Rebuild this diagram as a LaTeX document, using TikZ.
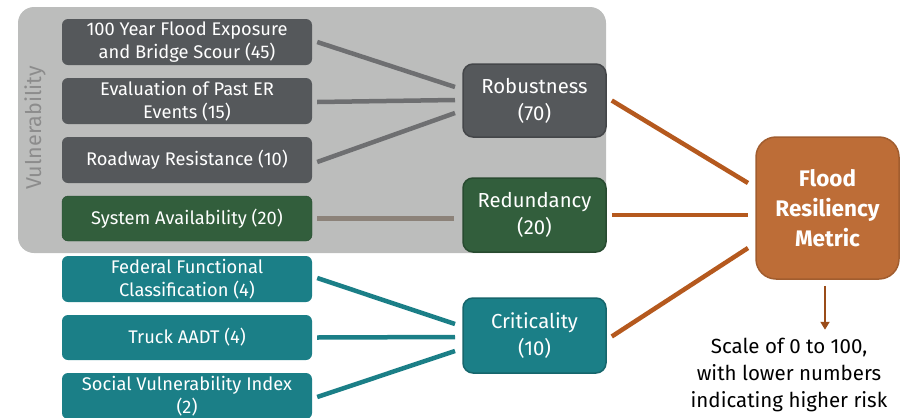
\documentclass[tikz,border=0pt]{standalone}
\usepackage{fontspec}
\setmainfont{Fira Sans}
\usetikzlibrary{arrows.meta}
\definecolor{vulngray}{HTML}{BCBDBC}
\definecolor{robgray}{HTML}{55585B}
\definecolor{redgreen}{HTML}{325E3C}
\definecolor{critteal}{HTML}{1B7F87}
\definecolor{floodorange}{HTML}{BD6D37}
\definecolor{lineorange}{HTML}{B5591E}
\definecolor{linegray}{HTML}{6E6F71}
\definecolor{linebrown}{HTML}{8C8279}
\tikzset{
	inbox/.style = {rounded corners = 6pt, text = white, align = center, minimum width = 250pt, font = \fontsize{18.3}{23.5}\selectfont, inner sep = 0pt},
	midbox/.style = {rounded corners = 10pt, text = white, align = center, minimum width = 143pt, font = \fontsize{20.3}{27}\selectfont, line width = 1.5pt, inner sep = 0pt},
	link/.style = {line width = 4.5pt}
}
\begin{document}
\begin{tikzpicture}[x = 1pt, y = -1pt]
	\useasboundingbox (0, 0) rectangle (903, 418);
	\fill[vulngray, rounded corners = 16pt] (18, 7) rectangle (606, 253);
	\node[rotate = 90, text = black!45, font = \fontsize{21.5}{24}\selectfont] (vuln) at (35, 128) {Vulnerability};
	% input boxes
	\node[inbox, fill = robgray, minimum height = 46pt] (flood) at (187, 42) {100 Year Flood Exposure\\and Bridge Scour (45)};
	\node[inbox, fill = robgray, minimum height = 46pt] (past) at (187, 101) {Evaluation of Past ER\\Events (15)};
	\node[inbox, fill = robgray, minimum height = 46pt] (road) at (187, 160) {Roadway Resistance (10)};
	\node[inbox, fill = redgreen, draw = redgreen!80!black, minimum height = 45pt] (avail) at (187, 218.5) {System Availability (20)};
	\node[inbox, fill = critteal, minimum height = 46pt] (fed) at (187, 279) {Federal Functional\\Classification (4)};
	\node[inbox, fill = critteal, minimum height = 45pt] (truck) at (187, 337.5) {Truck AADT (4)};
	\node[inbox, fill = critteal, minimum height = 46pt] (svi) at (187, 396) {Social Vulnerability Index\\(2)};
	% category boxes
	\node[midbox, fill = robgray, draw = robgray!80!black, minimum height = 73pt] (robust) at (534.5, 100.5) {Robustness\\(70)};
	\node[midbox, fill = redgreen, draw = redgreen!80!black, minimum height = 74pt] (redund) at (534.5, 215) {Redundancy\\(20)};
	\node[midbox, fill = critteal, draw = critteal!80!black, minimum height = 75pt] (crit) at (534.5, 335.5) {Criticality\\(10)};
	\node[rounded corners = 20pt, fill = floodorange, draw = floodorange!85!black, line width = 1.5pt, minimum width = 143pt, minimum height = 142pt, inner sep = 0pt, text = white, align = center, font = \fontsize{22.5}{30}\bfseries\selectfont] (metric) at (827.5, 208) {Flood\\Resiliency\\Metric};
	\node[align = center, font = \fontsize{20.5}{27}\selectfont] (scale) at (789, 375) {Scale of 0 to 100,\\with lower numbers\\indicating higher risk};
	% connectors
	\coordinate (rin1) at (455, 87);
	\coordinate (rin2) at (455, 100);
	\coordinate (rin3) at (455, 113);
	\coordinate (cin1) at (455, 324);
	\coordinate (cin2) at (455, 337);
	\coordinate (cin3) at (455, 351);
	\coordinate (min1) at (748, 183);
	\coordinate (min2) at (748, 215);
	\coordinate (min3) at (748, 248);
	\draw[link, linegray] ([xshift = 5pt]flood.east) -- (rin1);
	\draw[link, linegray] ([xshift = 5pt, yshift = -1pt]past.east) -- (rin2);
	\draw[link, linegray] ([xshift = 5pt, yshift = -2pt]road.east) -- (rin3);
	\draw[link, linebrown] ([xshift = 5pt]avail.east) -- ([xshift = -8pt]avail.east -| redund.west);
	\draw[link, critteal] ([xshift = 5pt, yshift = 1pt]fed.east) -- (cin1);
	\draw[link, critteal] ([xshift = 5pt]truck.east) -- (cin2);
	\draw[link, critteal] ([xshift = 5pt, yshift = -1pt]svi.east) -- (cin3);
	\draw[link, lineorange] ([xshift = 5pt]robust.east) -- (min1);
	\draw[link, lineorange] ([xshift = 5pt]redund.east) -- (min2);
	\draw[link, lineorange] ([xshift = 5pt, yshift = -1pt]crit.east) -- (min3);
	\draw[line width = 2pt, lineorange!85!black, -{Triangle[length = 8pt, width = 9pt]}] ([xshift = -2.5pt, yshift = -6pt]metric.south) -- ++ (0, 44) coordinate (tip);
\end{tikzpicture}
\end{document}
